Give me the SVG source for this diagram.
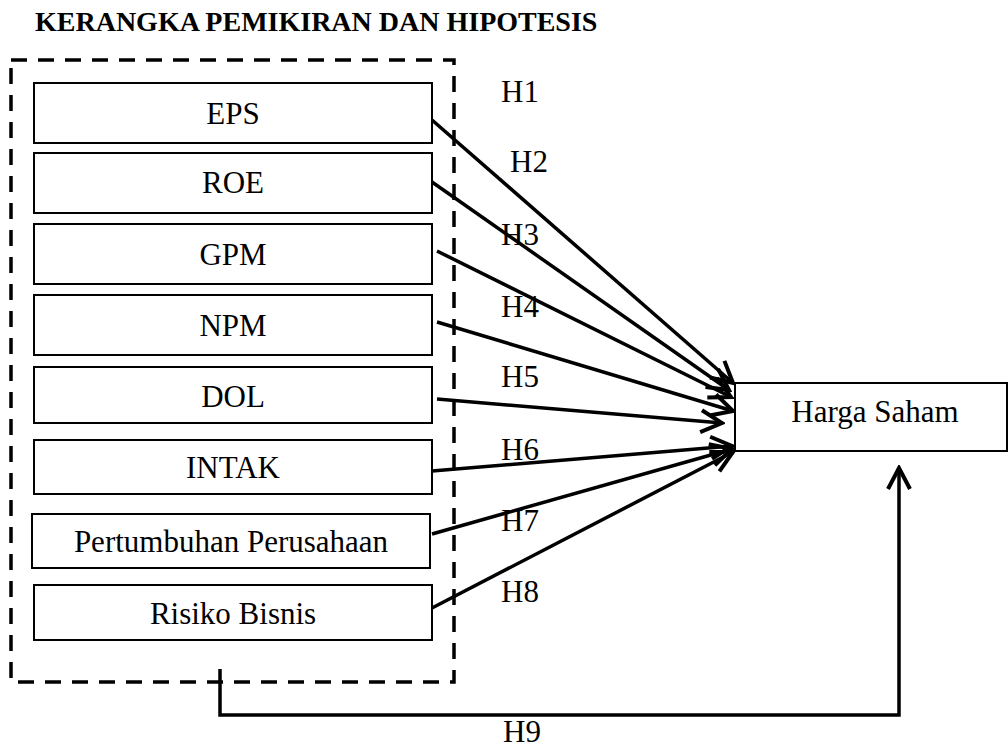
<svg xmlns="http://www.w3.org/2000/svg" width="1008" height="749" viewBox="0 0 1008 749">
<defs>
<style>
.t{font-family:"Liberation Serif","Times New Roman",serif;font-size:31px;fill:#000}
.c{text-anchor:middle}
.title{font-family:"Liberation Serif","Times New Roman",serif;font-size:28px;font-weight:bold;fill:#000}
.box{fill:#fff;stroke:#000;stroke-width:2}
.conn{fill:none;stroke:#000;stroke-width:3.5}
</style>
<marker id="arr" markerUnits="userSpaceOnUse" viewBox="0 0 26 26" refX="23" refY="13" markerWidth="26" markerHeight="26" orient="auto">
<path d="M2,2 L23,13 L2,24" fill="none" stroke="#000" stroke-width="4"/>
</marker>
</defs>
<rect width="1008" height="749" fill="#fff"/>
<text class="title" x="35" y="31">KERANGKA PEMIKIRAN DAN HIPOTESIS</text>
<g id="group-frame">
<rect x="11" y="60" width="443" height="622" fill="none" stroke="#000" stroke-width="3.5" stroke-dasharray="16 11"/>
</g>
<g id="node-eps"><rect class="box" x="34" y="83" width="398" height="60"/><text class="t c" x="233" y="124">EPS</text></g>
<g id="node-roe"><rect class="box" x="34" y="153" width="398" height="60"/><text class="t c" x="233" y="193">ROE</text></g>
<g id="node-gpm"><rect class="box" x="34" y="224" width="398" height="60"/><text class="t c" x="233" y="265">GPM</text></g>
<g id="node-npm"><rect class="box" x="34" y="295" width="398" height="60"/><text class="t c" x="233" y="336">NPM</text></g>
<g id="node-dol"><rect class="box" x="34" y="367" width="398" height="56"/><text class="t c" x="233" y="406.5">DOL</text></g>
<g id="node-intak"><rect class="box" x="34" y="440" width="398" height="54"/><text class="t c" x="233" y="478">INTAK</text></g>
<g id="node-pertumbuhan"><rect class="box" x="32" y="514" width="398" height="54"/><text class="t c" x="231" y="551.5">Pertumbuhan Perusahaan</text></g>
<g id="node-risiko"><rect class="box" x="34" y="585" width="398" height="55"/><text class="t c" x="233" y="624">Risiko Bisnis</text></g>
<g id="node-harga"><rect class="box" x="735" y="383" width="272" height="68"/><text class="t c" x="875" y="421.5">Harga Saham</text></g>
<g id="connectors">
<line class="conn" x1="432" y1="120" x2="733" y2="383" marker-end="url(#arr)"/>
<line class="conn" x1="432" y1="182" x2="729" y2="390" marker-end="url(#arr)"/>
<line class="conn" x1="437" y1="251" x2="731" y2="397" marker-end="url(#arr)"/>
<line class="conn" x1="437" y1="322" x2="733" y2="411" marker-end="url(#arr)"/>
<line class="conn" x1="437" y1="399" x2="722" y2="423" marker-end="url(#arr)"/>
<line class="conn" x1="432" y1="471" x2="732" y2="446" marker-end="url(#arr)"/>
<line class="conn" x1="432" y1="534" x2="732" y2="449" marker-end="url(#arr)"/>
<line class="conn" x1="432" y1="608" x2="733" y2="452" marker-end="url(#arr)"/>
<polyline class="conn" points="220,669 220,715 899,715 899,468" marker-end="url(#arr)"/>
</g>
<g id="labels">
<text class="t" x="501" y="102">H1</text>
<text class="t" x="510" y="172">H2</text>
<text class="t" x="501" y="245">H3</text>
<text class="t" x="501" y="317">H4</text>
<text class="t" x="501" y="387">H5</text>
<text class="t" x="501" y="460">H6</text>
<text class="t" x="501" y="531">H7</text>
<text class="t" x="501" y="602">H8</text>
<text class="t" x="503" y="742">H9</text>
</g>
</svg>
